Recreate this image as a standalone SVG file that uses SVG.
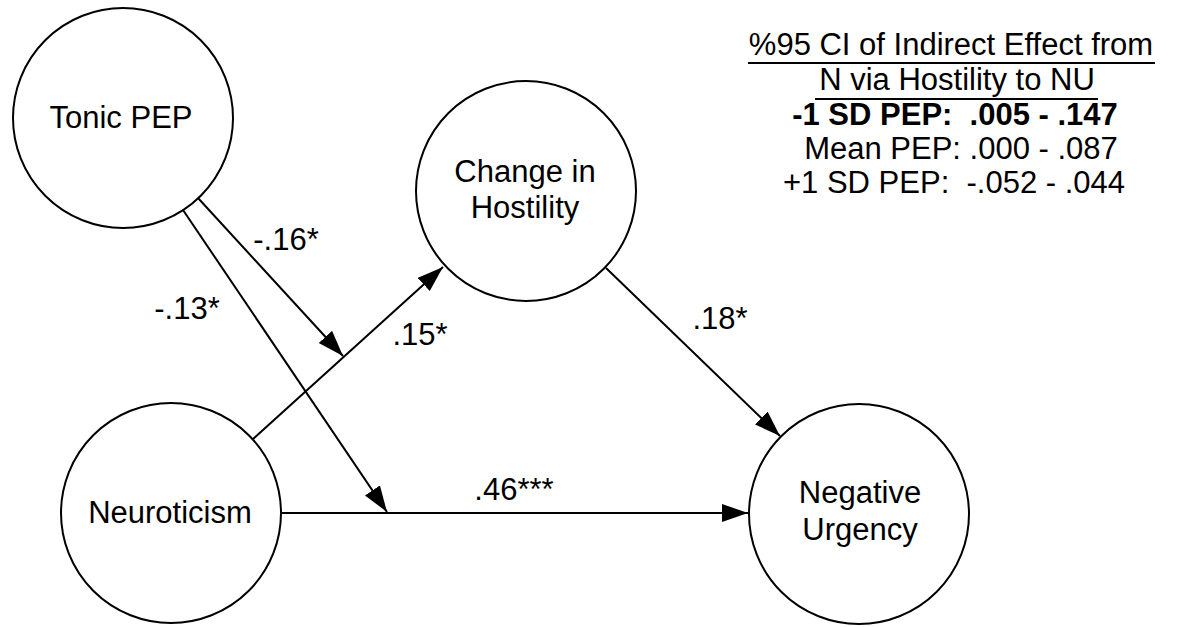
<svg xmlns="http://www.w3.org/2000/svg" width="1183" height="627" viewBox="0 0 1183 627">
<style>
.node{fill:#fff;stroke:#000;stroke-width:2}
.t{font-family:"Liberation Sans",Arial,Helvetica,sans-serif;font-size:31px;fill:#000;text-anchor:middle;white-space:pre}
.b{font-weight:bold}
.edge{stroke:#000;stroke-width:2;fill:none}
</style>
<defs>
<marker id="arr" markerUnits="userSpaceOnUse" markerWidth="28" markerHeight="20" refX="26" refY="9" orient="auto">
<path d="M0,0 L26,9 L0,18 Z" fill="#000"/>
</marker>
</defs>
<rect width="1183" height="627" fill="#fff"/>
<g id="connectors">
<line class="edge" x1="183" y1="210" x2="387" y2="512" marker-end="url(#arr)"/>
<line class="edge" x1="198" y1="198" x2="343" y2="356" marker-end="url(#arr)"/>
<line class="edge" x1="253" y1="439" x2="443" y2="267" marker-end="url(#arr)"/>
<line class="edge" x1="606" y1="268" x2="780" y2="436" marker-end="url(#arr)"/>
<line class="edge" x1="281" y1="513" x2="748" y2="513" marker-end="url(#arr)"/>
</g>
<g id="labels">
<text class="t" x="187" y="319">-.13*</text>
<text class="t" x="286" y="250">-.16*</text>
<text class="t" x="420" y="345">.15*</text>
<text class="t" x="720" y="329">.18*</text>
<text class="t" x="514" y="500">.46***</text>
</g>
<g id="node-tonic-pep">
<circle class="node" cx="123" cy="118" r="110"/>
<text class="t" x="121" y="128">Tonic PEP</text>
</g>
<g id="node-hostility">
<circle class="node" cx="526" cy="191" r="110"/>
<text class="t" x="525" y="182">Change in</text>
<text class="t" x="525" y="218">Hostility</text>
</g>
<g id="node-neuroticism">
<circle class="node" cx="171" cy="513" r="110"/>
<text class="t" x="170" y="523">Neuroticism</text>
</g>
<g id="node-negative-urgency">
<circle class="node" cx="859" cy="514" r="110"/>
<text class="t" x="860" y="503">Negative</text>
<text class="t" x="860" y="540">Urgency</text>
</g>
<g id="ci-box" xml:space="preserve">
<text class="t" x="951" y="55">%95 CI of Indirect Effect from</text>
<line x1="748" y1="63" x2="1155" y2="63" stroke="#000" stroke-width="2"/>
<text class="t" x="957" y="90">N via Hostility to NU</text>
<line x1="815" y1="99" x2="1098" y2="99" stroke="#000" stroke-width="2"/>
<text class="t b" x="955" y="125">-1 SD PEP:  .005 - .147</text>
<text class="t" x="961" y="159">Mean PEP: .000 - .087</text>
<text class="t" x="954" y="193">+1 SD PEP:  -.052 - .044</text>
</g>
</svg>
